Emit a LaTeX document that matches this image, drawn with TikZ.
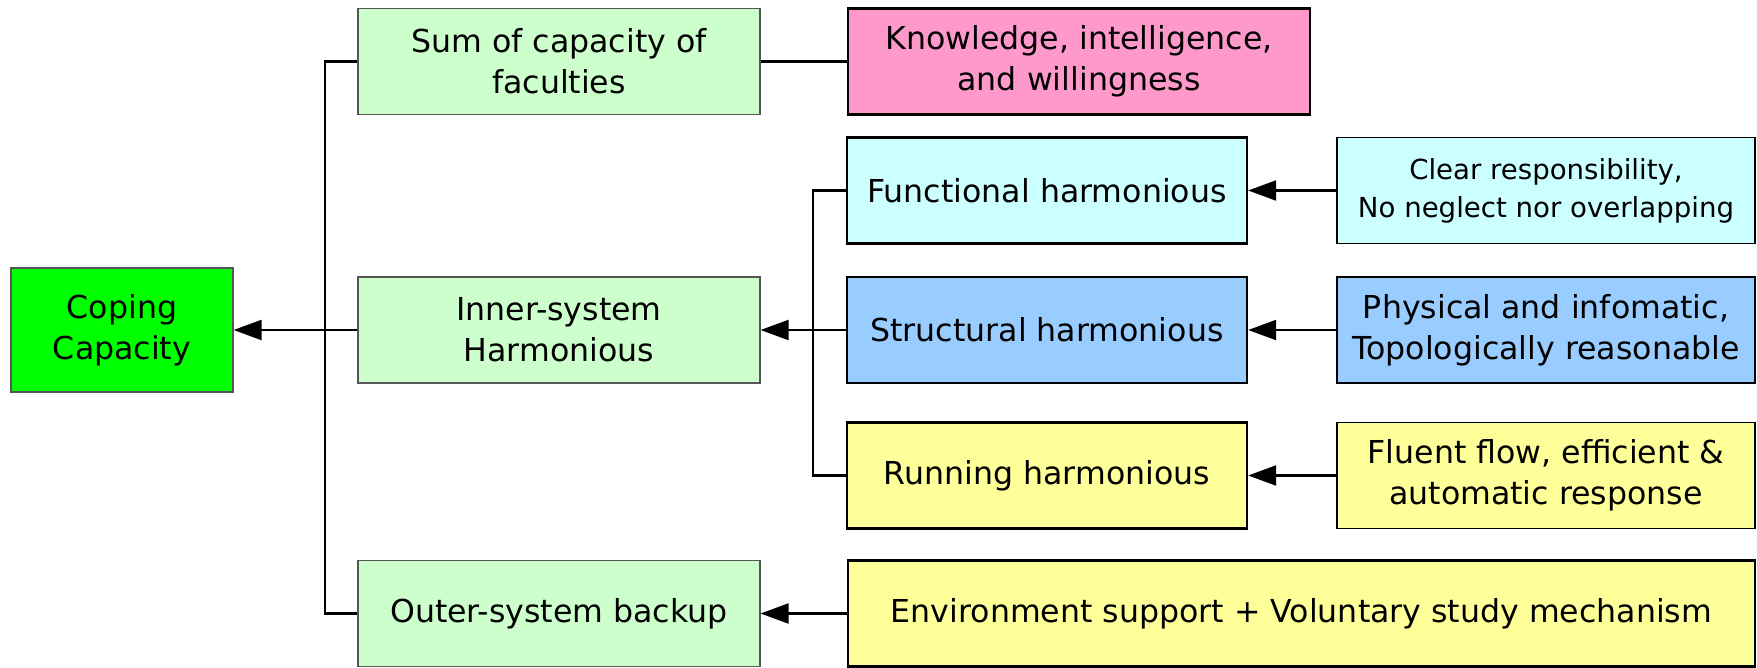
\documentclass[tikz,border=0pt]{standalone}
\usepackage{fontspec}
\setmainfont{DejaVu Sans}
\usetikzlibrary{arrows.meta}
\definecolor{cgreen}{HTML}{00FF00}
\definecolor{lgreen}{HTML}{CCFFCC}
\definecolor{pink}{HTML}{FF99CC}
\definecolor{lcyan}{HTML}{CCFFFF}
\definecolor{lblue}{HTML}{99CCFF}
\definecolor{lyellow}{HTML}{FFFF99}
\definecolor{gborder}{HTML}{555555}
\begin{document}
\begin{tikzpicture}[x=0.5pt,y=-0.5pt,
  box/.style={draw, rectangle, inner sep=0pt, align=center, font=\fontsize{15.8}{20.5}\selectfont, text=black},
  thin/.style={box, line width=0.6pt},
  thick/.style={box, line width=1.2pt},
  wide/.style={minimum width=201pt, minimum height=53pt},
  mid/.style={minimum width=200pt, minimum height=53pt},
  rgt/.style={minimum width=209pt, minimum height=53pt},
  conn/.style={line width=1.1pt},
  arr/.style={conn, -{Triangle[length=14pt,width=10pt]}}
]
\useasboundingbox (0,0) rectangle (1757,668);
% left column
\node[thin, fill=cgreen, draw=gborder, minimum width=111pt, minimum height=62pt] (cope) at (122,330) {Coping\\Capacity};
% second column
\node[thin, wide, fill=lgreen, draw=gborder] (sum) at (559,61.5) {Sum of capacity of\\faculties};
\node[thin, wide, fill=lgreen, draw=gborder] (inner) at (559,330) {Inner-system\\Harmonious};
\node[thin, wide, fill=lgreen, draw=gborder] (outer) at (559,613.5) {Outer-system backup};
% third column
\node[thick, fill=pink, minimum width=231pt, minimum height=53pt] (know) at (1079,61.5) {Knowledge, intelligence,\\and willingness};
\node[thick, mid, fill=lcyan] (func) at (1047,190.5) {Functional harmonious};
\node[thick, mid, fill=lblue] (struct) at (1047,330) {Structural harmonious};
\node[thick, mid, fill=lyellow] (run) at (1047,475.5) {Running harmonious};
\node[thick, fill=lyellow, minimum width=453.5pt, minimum height=53pt] (env) at (1301.5,613.5) {Environment support + Voluntary study mechanism};
% fourth column
\node[thin, rgt, fill=lcyan, font=\fontsize{13.8}{19}\selectfont] (clear) at (1546,190.5) {Clear responsibility,\\No neglect nor overlapping};
\node[thin, rgt, fill=lblue] (phys) at (1546,330) {Physical and infomatic,\\Topologically reasonable};
\node[thin, rgt, fill=lyellow] (fluent) at (1546,475.5) {Fluent flow, efficient \&\\automatic response};
% buses
\coordinate (busL) at (325,330);
\coordinate (busR) at (813,330);
\draw[conn] (sum.west) -| (busL) |- (outer.west);
\draw[arr] (inner.west) -- (cope.east);
\draw[conn] (sum.east) -- (know.west);
\draw[conn] (func.west) -| (busR) |- (run.west);
\draw[arr] (struct.west) -- (inner.east);
\draw[arr] (clear.west) -- (func.east);
\draw[arr] (phys.west) -- (struct.east);
\draw[arr] (fluent.west) -- (run.east);
\draw[arr] (env.west) -- (outer.east);
\end{tikzpicture}
\end{document}
